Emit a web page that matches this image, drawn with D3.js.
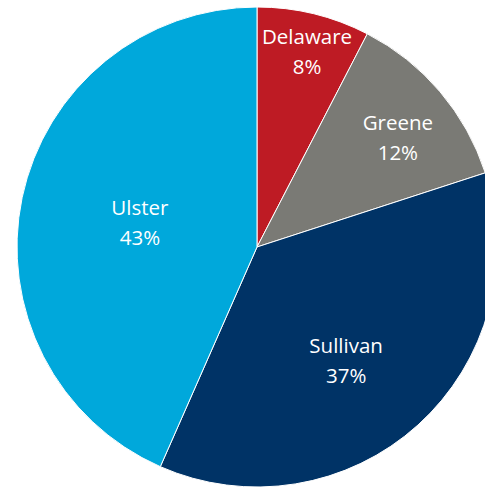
<!DOCTYPE html>
<html><head><meta charset="utf-8">
<script src="https://cdn.jsdelivr.net/npm/d3@7"></script>
<style>html,body{margin:0;padding:0;background:#fff;overflow:hidden}</style>
</head><body>
<svg id="c" width="485" height="487"></svg>
<script>
const counties = ["Delaware", "Greene", "Sullivan", "Ulster"];
const shares = [7.6, 12.4, 36.6, 43.4];
const colors = ["#BE1B24", "#7A7A75", "#003366", "#00A8DB"];
const labelRadiusFactor = [0.839, 0.742, 0.603, 0.498];
const labelAngleShift = [0.7, 2.6, 4.1, -0.3];

const svg = d3.select("#c");
const cx = 257, cy = 247, R = 240;
const g = svg.append("g").attr("transform", `translate(${cx},${cy})`);
const data = counties.map((c, i) => ({name: c, value: shares[i], i}));
const pie = d3.pie().value(d => d.value).sort(null);
const arcs = pie(data);
const arc = d3.arc().innerRadius(0).outerRadius(R);
g.selectAll("path").data(arcs).join("path")
  .attr("d", arc)
  .attr("fill", d => colors[d.data.i])
  .attr("stroke", "#fff").attr("stroke-width", 1);
const lbl = g.selectAll("text").data(arcs).join("text")
  .attr("transform", d => {
    const a = (d.startAngle + d.endAngle) / 2 + labelAngleShift[d.data.i] * Math.PI / 180;
    const r = R * labelRadiusFactor[d.data.i];
    return `translate(${r * Math.sin(a)},${-r * Math.cos(a)})`;
  })
  .attr("text-anchor", "middle")
  .attr("fill", "#fff")
  .style("font-family", "'Open Sans', sans-serif")
  .style("font-size", "20.5px");
lbl.append("tspan").attr("x", 0).attr("y", -8).text(d => d.data.name);
lbl.append("tspan").attr("x", 0).attr("y", 22).text(d => Math.round(d.data.value) + "%");
</script>
</body></html>
